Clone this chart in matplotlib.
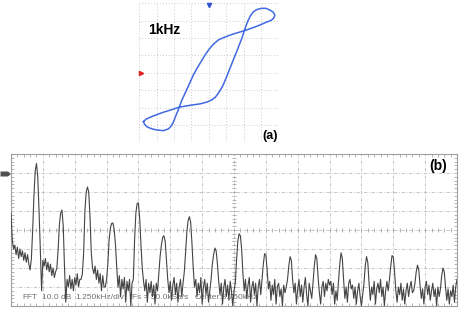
import numpy as np
import matplotlib
matplotlib.use('Agg')
import matplotlib.pyplot as plt
from matplotlib.patches import Polygon

plt.rcParams['font.family'] = ['Liberation Sans', 'DejaVu Sans']

# ---- (a) X-Y loop, in screen divisions ----
loop_x = [-3.76, -3.61, -3.38, -3.00, -2.61, -2.13, -1.70, -1.08, -0.51, -0.09,
          0.17, 0.37, 0.55, 0.80, 1.03, 1.22, 1.41, 1.60, 1.79, 1.93,
          2.04, 2.16, 2.27, 2.41, 2.56, 2.79, 3.04, 3.29, 3.52, 3.71,
          3.80, 3.75, 3.61, 3.33, 2.94, 2.47, 2.04, 1.60, 1.22, 0.84,
          0.55, 0.26, 0.01, -0.22, -0.41, -0.66, -0.89, -1.12, -1.37, -1.56,
          -1.70, -1.77, -1.84, -1.96, -2.07, -2.19, -2.33, -2.61, -2.90, -3.19,
          -3.42, -3.57, -3.70, -3.76]
loop_y = [-2.81, -2.67, -2.56, -2.41, -2.27, -2.12, -1.98, -1.87, -1.79, -1.68,
          -1.56, -1.41, -1.18, -0.76, -0.22, 0.26, 0.74, 1.21, 1.70, 2.07,
          2.42, 2.75, 3.03, 3.30, 3.51, 3.65, 3.71, 3.71, 3.61, 3.49,
          3.32, 3.17, 3.03, 2.92, 2.75, 2.57, 2.42, 2.29, 2.17, 2.02,
          1.89, 1.64, 1.35, 1.02, 0.70, 0.29, -0.13, -0.64, -1.18, -1.60,
          -1.98, -2.18, -2.33, -2.64, -2.90, -3.10, -3.23, -3.33, -3.30, -3.25,
          -3.17, -3.10, -2.96, -2.81]

# ---- (b) FFT trace, dB, one sample every 0.05 kHz from 0 to 17.5 kHz ----
spec_db = [
    -31, -45, -50, -48, -53, -49, -55, -50, -54, -51, -56, -52, -57, -53, -58, -61, -55, -40, -22, -9,
    -5, -12, -30, -50, -72, -56, -59, -55, -61, -57, -62, -58, -64, -60, -65, -62, -60, -50, -37, -31,
    -29.5, -38, -60, -78, -66, -70, -64, -71, -66, -72, -65, -69, -63, -70, -66, -66, -63, -52, -30, -20,
    -17.4, -20, -33, -52, -60, -63, -59, -66, -61, -68, -63, -72, -64, -70, -70, -66, -58, -45, -39, -36.5,
    -36.3, -40, -48, -60, -70, -64, -75, -66, -71, -65, -78, -67, -72, -66, -80, -68, -66, -45, -31, -26,
    -25.8, -34, -48, -60, -67, -72, -66, -78, -68, -73, -67, -75, -69, -79, -68, -72, -63, -54, -48, -44,
    -43, -46, -56, -66, -73, -67, -77, -69, -65, -74, -68, -78, -70, -66, -75, -68, -62, -52, -41, -35,
    -33, -36, -47, -60, -70, -66, -75, -68, -73, -65, -79, -70, -66, -74, -68, -78, -72, -66, -58, -53,
    -49.5, -51, -58, -67, -74, -68, -79, -70, -66, -75, -69, -77, -67, -72, -80, -72, -68, -56, -46, -42,
    -43, -50, -63, -72, -66, -76, -69, -65, -78, -70, -67, -74, -68, -80, -70, -66, -74, -66, -58, -52.5,
    -53, -61, -71, -67, -77, -69, -74, -66, -79, -70, -68, -75, -71, -80, -69, -73, -70, -66, -59, -54,
    -56, -66, -73, -68, -79, -71, -66, -75, -69, -78, -70, -65, -74, -80, -68, -72, -76, -68, -59, -53,
    -55, -65, -73, -79, -70, -67, -75, -68, -72, -66, -69, -67, -74, -68, -79, -72, -77, -67, -58, -52,
    -55, -66, -76, -70, -78, -68, -66, -71, -69, -76, -70, -79, -72, -68, -75, -80, -74, -68, -59, -54,
    -57, -68, -77, -70, -74, -67, -79, -71, -68, -73, -66, -75, -70, -80, -72, -67, -72, -66, -59, -53.5,
    -54, -62, -72, -78, -70, -74, -68, -77, -71, -79, -72, -68, -75, -70, -67, -73, -72, -68, -62, -58.5,
    -61, -69, -76, -71, -79, -70, -67, -74, -69, -77, -72, -68, -75, -71, -80, -70, -75, -71, -64, -60,
    -62, -70, -77, -71, -79, -72, -75, -69, -78, -70, -66,
]
freq_khz = np.linspace(0, 17.5, len(spec_db))

fft_info = ['FFT', '10.0 dB', '1.250kHz/div', 'Fs = 50.0kSa/s', 'Center:8.750kHz']
fft_info_x = [0.43, 1.22, 2.51, 4.75, 7.22]

W, H = 463, 313
fig = plt.figure(figsize=(W / 100, H / 100), dpi=100)

# ---------------- panel (a) ----------------
ax_a = fig.add_axes([139.3 / W, 1 - 142.3 / H, 139 / W, 139 / H])
ax_a.set_xlim(-4, 4)
ax_a.set_ylim(-4, 4)
ax_a.set_xticks(range(-4, 5))
ax_a.set_yticks(range(-4, 5))
ax_a.tick_params(length=0, labelbottom=False, labelleft=False)
ax_a.grid(True, ls=(0, (1, 2)), color='#cccccc', lw=0.7)
for s in ax_a.spines.values():
    s.set_visible(False)
ax_a.plot(loop_x, loop_y, color='#4169e1', lw=1.1, solid_joinstyle='round')
ax_a.plot([0], [3.9], marker='v', ms=3, color='#3050d0', clip_on=False)
ax_a.plot([-3.93], [0], marker='>', ms=3, color='#e02020', clip_on=False)
ax_a.text(-2.57, 2.46, '1kHz', fontsize=10, fontweight='bold', ha='center', va='center')
ax_a.text(3.55, -3.66, '(a)', fontsize=9, fontweight='bold', ha='center', va='center',
          clip_on=False)

# ---------------- panel (b) ----------------
ax_b = fig.add_axes([11 / W, 1 - 306 / H, 446 / W, 152 / H])
ax_b.set_xlim(0, 17.5)
ax_b.set_ylim(-80, 0)
ax_b.set_xticks(np.arange(0, 17.6, 1.25))
ax_b.set_yticks(range(-80, 1, 10))
ax_b.set_xticks(np.arange(0, 17.6, 0.25), minor=True)
ax_b.set_yticks(range(-80, 1, 2), minor=True)
ax_b.tick_params(which='both', direction='in', top=True, right=True, color='#a8a8a8',
                 labelbottom=False, labelleft=False)
ax_b.tick_params(which='major', length=0)
ax_b.tick_params(which='minor', length=2, width=0.6)
ax_b.grid(True, which='major', ls=(0, (4, 2, 1, 2)), color='#bcbcbc', lw=0.6)
for s in ax_b.spines.values():
    s.set_color('#a0a0a0')
    s.set_linewidth(0.8)
# tick marks along the centre lines
ax_b.plot(np.arange(0.25, 17.5, 0.25), [-40] * 69, ls='none', marker='|', ms=3,
          mew=0.6, color='#a8a8a8')
ax_b.plot([8.75] * 39, np.arange(-78, 0, 2), ls='none', marker='_', ms=3,
          mew=0.6, color='#a8a8a8')

for s, x in zip(fft_info, fft_info_x):
    ax_b.text(x, -75.5, s, fontsize=6, color='#707070', va='center', zorder=1)

ax_b.plot(freq_khz, spec_db, color='#444444', lw=0.8, zorder=3)

fig.text(438 / W, 1 - 166 / H, '(b)', fontsize=10, fontweight='bold', ha='center', va='center')

# reference level marker on the left edge
mk = Polygon([[0.5 / W, 1 - 171.5 / H], [8 / W, 1 - 171.5 / H], [11 / W, 1 - 174 / H],
              [8 / W, 1 - 176.5 / H], [0.5 / W, 1 - 176.5 / H]],
             closed=True, transform=fig.transFigure, facecolor='#505050', edgecolor='none')
fig.add_artist(mk)

fig.savefig('out.png', dpi=100)
